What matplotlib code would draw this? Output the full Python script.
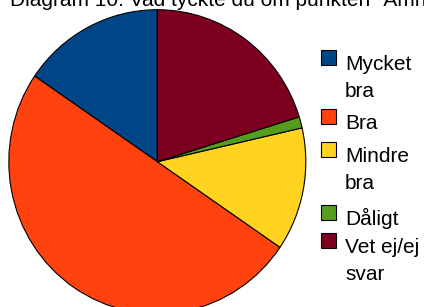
import matplotlib.pyplot as plt
from matplotlib.patches import Rectangle

labels = ["Mycket bra", "Bra", "Mindre bra", "Dåligt", "Vet ej/ej svar"]
legend_lines = [["Mycket", "bra"], ["Bra"], ["Mindre", "bra"], ["Dåligt"], ["Vet ej/ej", "svar"]]
counts = [13, 42, 11, 1, 17]
colors = ["#004586", "#ff420e", "#ffd320", "#579d1c", "#7e0021"]
title = 'Diagram 10: Vad tyckte du om punkten "Amnesfördjupning"?'

plt.rcParams["font.family"] = ["Liberation Sans", "DejaVu Sans"]

W, H = 424, 307
fig = plt.figure(figsize=(W / 100, H / 100), dpi=100)

# pie is slightly taller than wide in the original
cx, cy, rx, ry = 157.3, 161.7, 148.5, 152
ax = fig.add_axes([(cx - rx) / W, (H - cy - ry) / H, 2 * rx / W, 2 * ry / H])
ax.pie(counts, colors=colors, startangle=90, counterclock=True,
       wedgeprops=dict(edgecolor="black", linewidth=0.8))
ax.set_aspect("auto")
ax.set_xlim(-1, 1)
ax.set_ylim(-1, 1)
ax.axis("off")

fig.text(10 / W, 1 - 6 / H, title, fontsize=15, ha="left", va="baseline")

# legend drawn by hand, wrapped like the original
baselines = [[70, 97], [129], [162, 189], [225], [253, 280]]
for lines, bl, col in zip(legend_lines, baselines, colors):
    top = bl[0] - 20
    fig.add_artist(Rectangle((321 / W, 1 - (top + 15) / H), 15 / W, 15 / H,
                             facecolor=col, edgecolor="black", linewidth=0.8,
                             transform=fig.transFigure))
    for line, y in zip(lines, bl):
        fig.text(345 / W, 1 - y / H, line, fontsize=15, ha="left", va="baseline")

fig.savefig("out.png", dpi=100)
